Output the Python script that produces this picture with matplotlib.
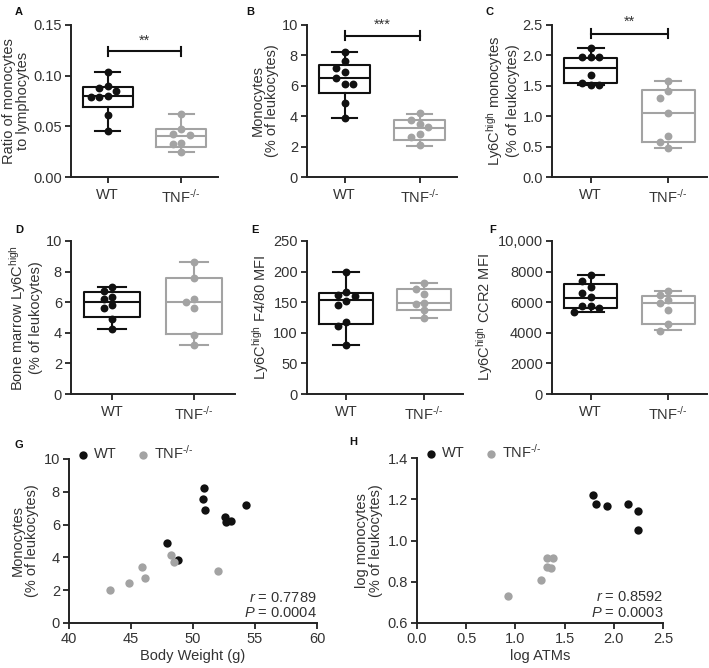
import numpy as np
import matplotlib.pyplot as plt

plt.rcParams['font.family'] = ['Liberation Sans', 'DejaVu Sans']
plt.rcParams['mathtext.fontset'] = 'custom'
plt.rcParams['mathtext.rm'] = 'Liberation Sans'
plt.rcParams['mathtext.it'] = 'Liberation Sans:italic'
plt.rcParams['font.size'] = 10.5

groups = ['WT', 'TNF$^{\\text{-/-}}$']
WT_COL = '#111111'
KO_COL = '#a3a3a3'
TXT = '#333333'

# box panels: points, and box stats (min, q1, median, q3, max)
a_wt = [0.104, 0.090, 0.088, 0.085, 0.080, 0.079, 0.079, 0.061, 0.045]
a_ko = [0.062, 0.047, 0.042, 0.041, 0.034, 0.033, 0.025]
a_box_wt = [0.045, 0.069, 0.080, 0.089, 0.104]
a_box_ko = [0.025, 0.030, 0.040, 0.047, 0.062]

b_wt = [8.25, 7.6, 7.2, 6.9, 6.5, 6.15, 6.15, 4.9, 3.85]
b_ko = [4.19, 3.75, 3.49, 3.27, 2.83, 2.61, 2.1]
b_box_wt = [3.85, 5.5, 6.5, 7.4, 8.25]
b_box_ko = [2.05, 2.45, 3.2, 3.75, 4.15]

c_wt = [2.12, 1.97, 1.97, 1.97, 1.67, 1.55, 1.52, 1.52]
c_ko = [1.58, 1.42, 1.30, 1.05, 0.68, 0.57, 0.48]
c_box_wt = [1.52, 1.54, 1.80, 1.96, 2.12]
c_box_ko = [0.48, 0.57, 1.05, 1.43, 1.58]

d_wt = [7.0, 6.75, 6.36, 6.19, 5.8, 5.6, 4.88, 4.25]
d_ko = [8.65, 7.6, 6.2, 6.0, 5.6, 3.85, 3.2]
d_box_wt = [4.25, 5.05, 6.0, 6.65, 7.0]
d_box_ko = [3.2, 3.9, 6.0, 7.6, 8.65]

e_wt = [200, 166, 161, 160, 152, 146, 118, 111, 80]
e_ko = [182, 171, 164, 149, 147, 137, 125]
e_box_wt = [80, 114, 154, 165, 200]
e_box_ko = [125, 138, 148, 171, 182]

f_wt = [7780, 7390, 7010, 6580, 6320, 5770, 5730, 5600, 5380]
f_ko = [6700, 6500, 6150, 5920, 5510, 4580, 4120]
f_box_wt = [5380, 5640, 6300, 7200, 7780]
f_box_ko = [4200, 4550, 5920, 6380, 6700]

# correlation panels
g_wt_x = [50.9, 50.8, 51.0, 54.3, 52.6, 52.7, 53.1, 47.9, 48.8]
g_wt_y = [8.23, 7.58, 6.87, 7.17, 6.48, 6.16, 6.2, 4.9, 3.84]
g_ko_x = [43.3, 44.8, 45.9, 46.1, 48.2, 48.45, 52.0]
g_ko_y = [2.03, 2.44, 3.39, 2.74, 4.15, 3.72, 3.19]

h_wt_x = [1.79, 1.82, 1.93, 2.14, 2.25, 2.25]
h_wt_y = [1.222, 1.178, 1.169, 1.176, 1.142, 1.053]
h_ko_x = [0.92, 1.26, 1.32, 1.38, 1.32, 1.36]
h_ko_y = [0.733, 0.809, 0.916, 0.914, 0.873, 0.865]

W, H = 709, 668
fig = plt.figure(figsize=(W / 100, H / 100), dpi=100)


def px_axes(l, t, r, b):
    return fig.add_axes([l / W, 1 - b / H, (r - l) / W, (b - t) / H])


def style(ax):
    for s in ['top', 'right']:
        ax.spines[s].set_visible(False)
    for s in ['left', 'bottom']:
        ax.spines[s].set_linewidth(1.4)
        ax.spines[s].set_color('#222222')
    ax.tick_params(direction='out', length=4, width=1.3, color='#222222',
                   labelcolor=TXT, labelsize=10.5, pad=2.5)


def swarm(vals, ypx, xpx, step=8.5, dia=7.5):
    # simple deterministic swarm offsets (in data x units)
    placed = []
    offs = []
    cands = [0]
    for k in range(1, 6):
        cands += [-k * step, k * step]
    for v in vals:
        yp = v * ypx
        for c in cands:
            if all((c - px) ** 2 + (yp - py) ** 2 >= dia ** 2 * 0.95 for px, py in placed):
                break
        placed.append((c, yp))
        offs.append(c / xpx)
    return np.array(offs)


def box_panel(ax, wt, ko, bwt, bko, ylim, yticks, ylabel, sig=None, ytl=None):
    style(ax)
    ax.set_xlim(-0.5, 1.5)
    ax.set_ylim(*ylim)
    bb = ax.get_position()
    ypx = bb.height * H / (ylim[1] - ylim[0])
    xpx = bb.width * W / 2.0
    for i, (pts, st, col) in enumerate([(wt, bwt, WT_COL), (ko, bko, KO_COL)]):
        stats = [dict(whislo=st[0], q1=st[1], med=st[2], q3=st[3], whishi=st[4])]
        ax.bxp(stats, positions=[i], widths=0.68, showfliers=False,
               boxprops=dict(color=col, lw=1.5),
               medianprops=dict(color=col, lw=1.5),
               whiskerprops=dict(color=col, lw=1.5),
               capprops=dict(color=col, lw=1.5), capwidths=0.34,
               manage_ticks=False)
        offs = swarm(pts, ypx, xpx)
        ax.scatter(i + offs, pts, s=32, color=col, zorder=5, linewidths=0)
    ax.set_xticks([0, 1])
    ax.set_xticklabels(groups)
    ax.tick_params(axis='x', pad=4)
    ax.set_yticks(yticks)
    if ytl is not None:
        ax.set_yticklabels(ytl)
    ax.set_ylabel(ylabel, color=TXT, fontsize=10.5, labelpad=2, linespacing=1.05)
    if sig is not None:
        yb, ys, txt = sig
        cap = (ylim[1] - ylim[0]) * 0.03
        ax.plot([0, 1], [yb, yb], color=WT_COL, lw=1.5, clip_on=False)
        for xx in [0, 1]:
            ax.plot([xx, xx], [yb - cap, yb + cap], color=WT_COL, lw=1.5, clip_on=False)
        ax.text(0.5, ys, txt, ha='center', va='center', color=TXT, fontsize=10.5,
                clip_on=False)


axA = px_axes(71, 25, 218, 177)
box_panel(axA, a_wt, a_ko, a_box_wt, a_box_ko, (0, 0.15), [0, 0.05, 0.10, 0.15],
          'Ratio of monocytes\nto lymphocytes', sig=(0.124, 0.134, '**'),
          ytl=['0.00', '0.05', '0.10', '0.15'])

axB = px_axes(307, 25, 457, 177)
box_panel(axB, b_wt, b_ko, b_box_wt, b_box_ko, (0, 10), [0, 2, 4, 6, 8, 10],
          'Monocytes\n(% of leukocytes)', sig=(9.3, 10.0, '***'))

axC = px_axes(552, 25, 707, 177)
box_panel(axC, c_wt, c_ko, c_box_wt, c_box_ko, (0, 2.5), [0, 0.5, 1.0, 1.5, 2.0, 2.5],
          'Ly6C$^{\\mathrm{high}}$ monocytes\n(% of leukocytes)', sig=(2.36, 2.55, '**'),
          ytl=['0.0', '0.5', '1.0', '1.5', '2.0', '2.5'])

axD = px_axes(71, 241, 235, 394)
box_panel(axD, d_wt, d_ko, d_box_wt, d_box_ko, (0, 10), [0, 2, 4, 6, 8, 10],
          'Bone marrow Ly6C$^{\\mathrm{high}}$\n(% of leukocytes)')

axE = px_axes(307, 241, 463, 394)
box_panel(axE, e_wt, e_ko, e_box_wt, e_box_ko, (0, 250), [0, 50, 100, 150, 200, 250],
          'Ly6C$^{\\mathrm{high}}$ F4/80 MFI')

axF = px_axes(552, 241, 707, 394)
box_panel(axF, f_wt, f_ko, f_box_wt, f_box_ko, (0, 10000),
          [0, 2000, 4000, 6000, 8000, 10000], 'Ly6C$^{\\mathrm{high}}$ CCR2 MFI',
          ytl=['0', '2000', '4000', '6000', '8000', '10,000'])


def corr_panel(ax, wx, wy, kx, ky, xlim, xticks, ylim, yticks, xlabel, ylabel,
               r, p, xtl=None, ytl=None):
    style(ax)
    ax.scatter(wx, wy, s=36, color=WT_COL, zorder=5, linewidths=0, label='WT')
    ax.scatter(kx, ky, s=36, color=KO_COL, zorder=5, linewidths=0, label=groups[1])
    ax.set_xlim(*xlim)
    ax.set_ylim(*ylim)
    ax.set_xticks(xticks)
    ax.set_yticks(yticks)
    if xtl is not None:
        ax.set_xticklabels(xtl)
    if ytl is not None:
        ax.set_yticklabels(ytl)
    ax.set_xlabel(xlabel, color=TXT, fontsize=10.5, labelpad=2)
    ax.set_ylabel(ylabel, color=TXT, fontsize=10.5, labelpad=3, linespacing=1.05)
    ax.text(1.0, 0.155, '$r$ = ' + r, transform=ax.transAxes, ha='right',
            va='center', color=TXT, fontsize=10.5)
    ax.text(1.0, 0.06, '$P$ = ' + p, transform=ax.transAxes, ha='right',
            va='center', color=TXT, fontsize=10.5)
    ax.legend(loc='lower left', bbox_to_anchor=(0.02, 0.985), ncol=2, frameon=False,
              handletextpad=0.15, columnspacing=1.2, borderaxespad=0, borderpad=0,
              fontsize=10.5, labelcolor=TXT, handlelength=1.2)


axG = px_axes(69, 459, 317, 623)
corr_panel(axG, g_wt_x, g_wt_y, g_ko_x, g_ko_y, (40, 60), [40, 45, 50, 55, 60],
           (0, 10), [0, 2, 4, 6, 8, 10], 'Body Weight (g)',
           'Monocytes\n(% of leukocytes)', '0.7789', '0.0004')

axH = px_axes(417, 458, 663, 623)
corr_panel(axH, h_wt_x, h_wt_y, h_ko_x, h_ko_y, (0, 2.5), [0, 0.5, 1.0, 1.5, 2.0, 2.5],
           (0.6, 1.4), [0.6, 0.8, 1.0, 1.2, 1.4], 'log ATMs',
           'log monocytes\n(% of leukocytes)', '0.8592', '0.0003',
           xtl=['0.0', '0.5', '1.0', '1.5', '2.0', '2.5'],
           ytl=['0.6', '0.8', '1.0', '1.2', '1.4'])

# panel letters
for lab, x, y in [('A', 19, 12), ('B', 250, 12), ('C', 490, 12),
                  ('D', 19, 230), ('E', 255, 230), ('F', 493, 230),
                  ('G', 19, 445), ('H', 353, 442)]:
    fig.text(x / W, 1 - y / H, lab, fontsize=8, fontweight='bold', ha='center',
             va='center', color='#111111')

fig.savefig('out.png', dpi=100, facecolor='white')
